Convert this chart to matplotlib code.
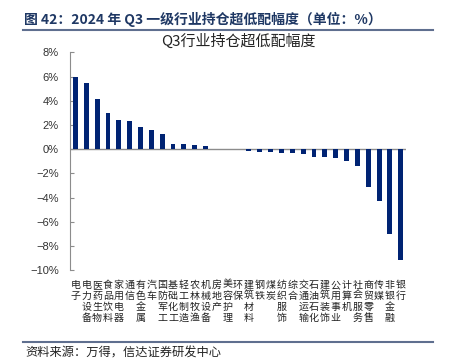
import numpy as np
import matplotlib
matplotlib.use("Agg")
import matplotlib.pyplot as plt
from matplotlib.ticker import FuncFormatter

plt.rcParams['font.family'] = ['Noto Sans CJK SC', 'DejaVu Sans']

# data
industries = ["电子", "电力设备", "医药生物", "食品饮料", "家用电器", "通信", "有色金属",
              "汽车", "国防军工", "基础化工", "轻工制造", "农林牧渔", "机械设备", "房地产",
              "美容护理", "环保", "建筑材料", "钢铁", "煤炭", "纺织服饰", "综合", "交通运输",
              "石油石化", "建筑装饰", "公用事业", "计算机", "社会服务", "商贸零售", "传媒",
              "非银金融", "银行"]
values = [6.0, 5.45, 4.16, 3.03, 2.42, 2.31, 1.82, 1.57, 1.27, 0.44, 0.42, 0.36, 0.25,
          0.02, 0.01, -0.02, -0.11, -0.22, -0.22, -0.28, -0.33, -0.41, -0.66, -0.66,
          -0.77, -0.99, -1.38, -3.14, -4.32, -7.02, -9.15]
yticks = [-10, -8, -6, -4, -2, 0, 2, 4, 6, 8]

fig = plt.figure(figsize=(4.5, 3.62), dpi=100)
ax = fig.add_axes([0.1556, 0.254, 0.747, 0.601])

x = np.arange(len(industries))
ax.bar(x, values, width=0.45, color='#002373', zorder=3)
ax.axhline(0, color='#8c8c8c', lw=1.0, zorder=2)

ax.set_xlim(-0.5, len(industries) - 0.5)
ax.set_ylim(-10, 8)
ax.set_yticks(yticks)
ax.yaxis.set_major_formatter(FuncFormatter(lambda v, p: f"{v:.0f}%".replace('-', '\u2212')))
ax.tick_params(axis='y', direction='in', length=3, color='#8c8c8c', pad=8,
               labelsize=8, labelcolor='#333333')
for lab in ax.get_yticklabels():
    lab.set_fontfamily(['Liberation Sans', 'DejaVu Sans'])

ax.set_xticks(x)
ax.set_xticklabels(["\n".join(n) for n in industries], fontsize=7.2, linespacing=1.12,
                   color='#222222')
ax.tick_params(axis='x', length=0, pad=7)

for s in ['top', 'right', 'bottom']:
    ax.spines[s].set_visible(False)
ax.spines['left'].set_color('#8c8c8c')

ax.set_title("Q3行业持仓超低配幅度", fontsize=10.8, color='#222222', pad=5)

# header and footer
fig.text(0.053, 0.945, "图 42：2024 年 Q3 一级行业持仓超低配幅度（单位：%）",
         fontsize=10, fontweight='bold', color='#1f3864', va='center')
fig.add_artist(plt.Line2D([0.051, 0.962], [0.917, 0.917], color='#5f6f8f', lw=1.5))
fig.add_artist(plt.Line2D([0.051, 0.962], [0.056, 0.056], color='#5f6f8f', lw=1.5))
fig.text(0.056, 0.026, "资料来源：万得，信达证券研发中心", fontsize=8.8, style='italic',
         color='#222222', va='center')

fig.savefig("out.png", dpi=100)
